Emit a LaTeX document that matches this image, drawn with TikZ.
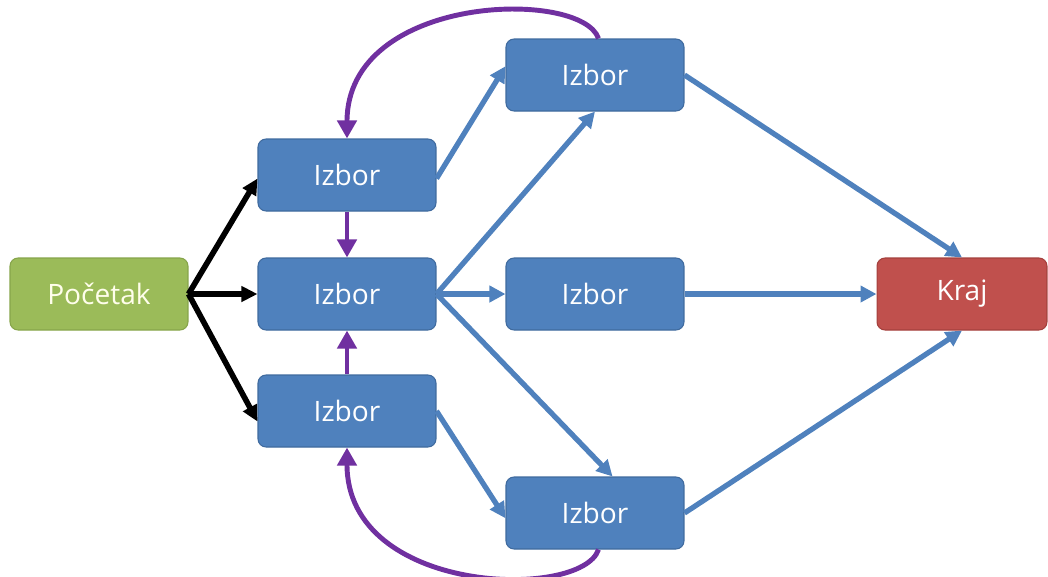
\documentclass[tikz,border=0pt]{standalone}
\usepackage{fontspec}
\setmainfont{Open Sans}
\usetikzlibrary{arrows.meta}
\definecolor{ChoiceBlue}{HTML}{4F81BD}
\definecolor{ChoiceBlueDark}{HTML}{3F6A9E}
\definecolor{StartGreen}{HTML}{9BBB59}
\definecolor{StartGreenDark}{HTML}{86A44A}
\definecolor{EndRed}{HTML}{C0504D}
\definecolor{EndRedDark}{HTML}{A4403D}
\definecolor{LoopPurple}{HTML}{7030A0}
\tikzset{
    box/.style={rectangle, rounded corners = .16cm, minimum width = 3.56cm,
                minimum height = 1.44cm, inner sep = 0, line width = .6pt,
                text=white, font=\fontsize{16}{19}\selectfont},
    startbox/.style={box, fill=StartGreen, draw=StartGreenDark, text=white!92!yellow},
    choicebox/.style={box, fill=ChoiceBlue, draw=ChoiceBlueDark},
    endbox/.style={box, fill=EndRed, draw=EndRedDark, minimum width = 3.4cm},
    blackarrow/.style={draw=black, line width = 3.2pt,
                -{Triangle[length=.32cm, width=.3cm]}},
    bluearrow/.style={draw=ChoiceBlue, line width = 3pt,
                -{Triangle[length=.32cm, width=.32cm]}},
    purplearrow/.style={draw=LoopPurple, line width = 2.8pt,
                -{Triangle[length=.36cm, width=.38cm]}},
}

\begin{document}
\begin{tikzpicture}[x=0.02cm, y=-0.02cm]
        \useasboundingbox (0,0) rectangle (1048,576);
        % First column
        \node[startbox] (C0r2) at (99,294) {Početak};
        %
        \node[choicebox] (C1r1) at (347,175) {Izbor};
        \node[choicebox] (C1r2) at (347,294) {Izbor};
        \node[choicebox] (C1r3) at (347,411) {Izbor};
        %
        % Second column
        \node[choicebox] (C2r1) at (595,75) {Izbor};
        \node[choicebox] (C2r2) at (595,294) {Izbor};
        \node[choicebox] (C2r3) at (595,513) {Izbor};
        %
        \node[endbox] (C3r2) at (962,294) {Kraj};
        %
        %
        % Start arrows
        \draw[blackarrow] (C0r2.east) -- ([yshift=-2]C1r1.west);
        \draw[blackarrow] (C0r2.east) -- (C1r2.west);
        \draw[blackarrow] (C0r2.east) -- ([yshift=-6]C1r3.west);
        %
        % Loops back
        \draw[purplearrow] (C1r1.south) -- (C1r2.north);
        \draw[purplearrow] (C1r3.north) -- (C1r2.south);
        \draw[purplearrow] ([xshift=2]C2r1.north) .. controls +(-17,-50) and +(0,-145) .. (C1r1.north);
        \draw[purplearrow] ([xshift=2]C2r3.south) .. controls +(-17,51) and +(0,148) .. (C1r3.south);
        %
        % Forward arrows
        \draw[bluearrow] ([yshift=-2]C1r1.east) -- ([yshift=5]C2r1.west);
        \draw[bluearrow] (C1r2.east) -- (C2r1.south);
        \draw[bluearrow] (C1r2.east) -- (C2r2.west);
        \draw[bluearrow] (C1r2.east) -- ([xshift=10]C2r3.north);
        \draw[bluearrow] (C1r3.east) -- ([yshift=-3]C2r3.west);
        %
        \draw[bluearrow] (C2r1.east) -- (C3r2.north);
        \draw[bluearrow] (C2r2.east) -- (C3r2.west);
        \draw[bluearrow] (C2r3.east) -- (C3r2.south);
\end{tikzpicture}
\end{document}
